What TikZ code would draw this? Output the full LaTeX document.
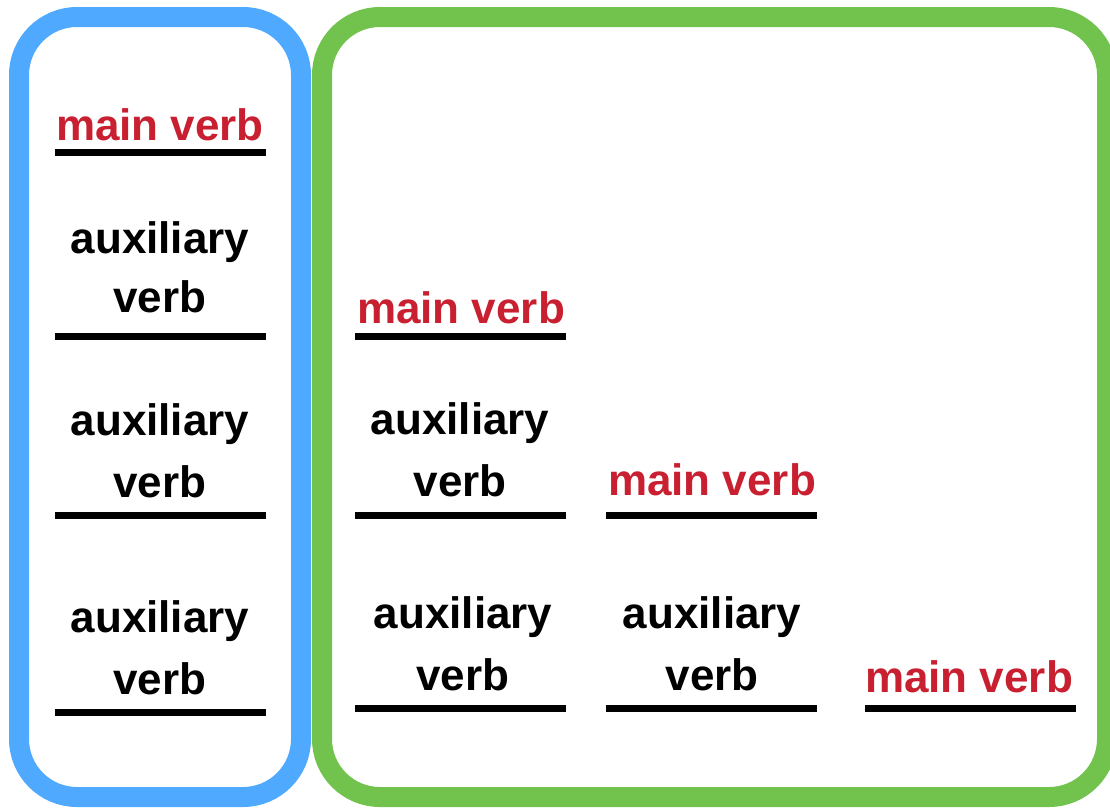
\documentclass[tikz,border=0pt]{standalone}
\usepackage{fontspec}
\setmainfont{Liberation Sans}
\usetikzlibrary{positioning}
\definecolor{tenseblue}{RGB}{78,169,255}
\definecolor{tensegreen}{RGB}{114,195,78}
\definecolor{mainred}{RGB}{200,32,48}
\tikzset{
  %% group : rounded frame round a set of columns
  group/.style={
    line width=20,
    rounded corners=58
  },
  %% mainverb : the red main verb label
  mainverb/.style={
    anchor=base,
    text=mainred,
    font=\bfseries\fontsize{44}{63}\selectfont,
    inner sep=0pt
  },
  %% auxverb : a black auxiliary verb label
  auxverb/.style={
    anchor=base,
    align=center,
    font=\bfseries\fontsize{44}{63}\selectfont,
    inner sep=0pt
  },
  %% slot : the black line under a label
  slot/.style={black, line width=7}
}

\begin{document}
\begin{tikzpicture}
  [x=1pt,
  y=-1pt]
  \useasboundingbox (0,0) rectangle (1110,807);
  \clip (0,0) rectangle (1110,807);

  %% frames
  \draw [group, tenseblue] (19,17) rectangle (301,797);
  \draw [group, tensegreen] (322,17) rectangle (1107,797);

  %% first column
  \node (m1) [mainverb] at (160,140) {main verb};
  \draw [slot] (55,152) -- (266,152);
  \node (a11) [auxverb] at (160,253) {auxiliary};
  \node (v11) [auxverb] at (160,312) {verb};
  \draw [slot] (55,336) -- (266,336);
  \node (a12) [auxverb] at (160,435) {auxiliary};
  \node (v12) [auxverb] at (160,497) {verb};
  \draw [slot] (55,515) -- (266,515);
  \node (a13) [auxverb] at (160,632) {auxiliary};
  \node (v13) [auxverb] at (160,694) {verb};
  \draw [slot] (55,712) -- (266,712);

  %% second column
  \node (m2) [mainverb] at (461,323) {main verb};
  \draw [slot] (355,336) -- (566,336);
  \node (a21) [auxverb] at (460,434) {auxiliary};
  \node (v21) [auxverb] at (460,496) {verb};
  \draw [slot] (355,515) -- (566,515);
  \node (a22) [auxverb] at (463,628) {auxiliary};
  \node (v22) [auxverb] at (463,690) {verb};
  \draw [slot] (355,708) -- (566,708);

  %% third column
  \node (m3) [mainverb] at (712,495) {main verb};
  \draw [slot] (606,515) -- (817,515);
  \node (a31) [auxverb] at (712,628) {auxiliary};
  \node (v31) [auxverb] at (712,690) {verb};
  \draw [slot] (606,708) -- (817,708);

  %% fourth column
  \node (m4) [mainverb] at (969,692) {main verb};
  \draw [slot] (865,708) -- (1076,708);

\end{tikzpicture}
\end{document}
